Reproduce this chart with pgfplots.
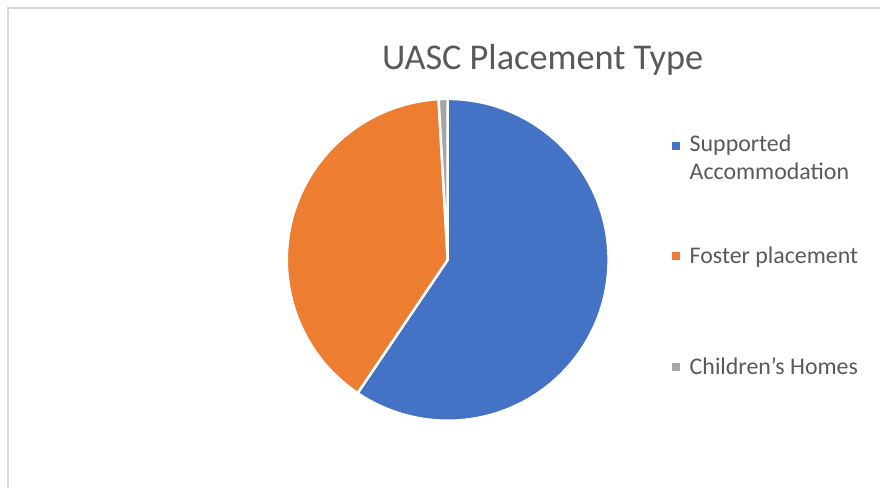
\documentclass[border=0pt]{standalone}
\usepackage{pgfplots}
\pgfplotsset{compat=1.18}
\usepackage{pgfplotstable}
\usepackage{fontspec}
\setmainfont{Carlito}

\definecolor{saBlue}{HTML}{4472C4}
\definecolor{fpOrange}{HTML}{ED7D31}
\definecolor{chGray}{HTML}{A5A5A5}
\definecolor{txtGray}{HTML}{595959}
\definecolor{frameGray}{HTML}{D9D9D9}

% placement counts
\pgfplotstableread{
label value
Supported 66
Foster 44
Children 1
}\pietable

\begin{document}
\begin{tikzpicture}
\pgfplotstablegetelem{0}{value}\of\pietable \let\va\pgfplotsretval
\pgfplotstablegetelem{1}{value}\of\pietable \let\vb\pgfplotsretval
\pgfplotstablegetelem{2}{value}\of\pietable \let\vc\pgfplotsretval
\pgfmathsetmacro\total{\va+\vb+\vc}
\pgfmathsetmacro\aA{90-\va/\total*360}
\pgfmathsetmacro\aB{\aA-\vb/\total*360}
\pgfmathsetmacro\aC{\aB-\vc/\total*360}
\begin{axis}[
    x=1pt, y=1pt,
    xmin=0, xmax=881,
    ymin=0, ymax=488,
    hide axis,
    clip=false,
]
\path (axis cs:0,0) rectangle (axis cs:881,488);
\draw[frameGray, line width=1.2pt] (axis cs:8,0) -- (axis cs:8,480) -- (axis cs:881,480);

% pie, clockwise from 12 o'clock
\filldraw[fill=saBlue, draw=white, line width=2.5pt, line join=round]
    (axis cs:448,228) -- ++(90:161pt) arc[start angle=90, end angle=\aA, radius=161pt] -- cycle;
\filldraw[fill=fpOrange, draw=white, line width=2.5pt, line join=round]
    (axis cs:448,228) -- ++(\aA:161pt) arc[start angle=\aA, end angle=\aB, radius=161pt] -- cycle;
\filldraw[fill=chGray, draw=white, line width=2.5pt, line join=round]
    (axis cs:448,228) -- ++(\aB:161pt) arc[start angle=\aB, end angle=\aC, radius=161pt] -- cycle;

\node[anchor=base, text=txtGray, font=\fontsize{36.3}{40}\selectfont, inner sep=0pt]
    at (axis cs:543,418) {UASC Placement Type};

% legend
\fill[saBlue] (axis cs:672.5,338) rectangle (axis cs:680.5,345.5);
\fill[fpOrange] (axis cs:672.5,228) rectangle (axis cs:680.5,235.5);
\fill[chGray] (axis cs:672.5,117) rectangle (axis cs:680.5,124.5);
\begin{scope}[every node/.style={anchor=base west, text=txtGray, inner sep=0pt,
    font=\fontsize{23.9}{28}\selectfont}]
\node at (axis cs:690,336.5) {Supported};
\node at (axis cs:690,308) {Accommodation};
\node at (axis cs:690,224.7) {Foster placement};
\node at (axis cs:690,113) {Children’s Homes};
\end{scope}
\end{axis}
\end{tikzpicture}
\end{document}
